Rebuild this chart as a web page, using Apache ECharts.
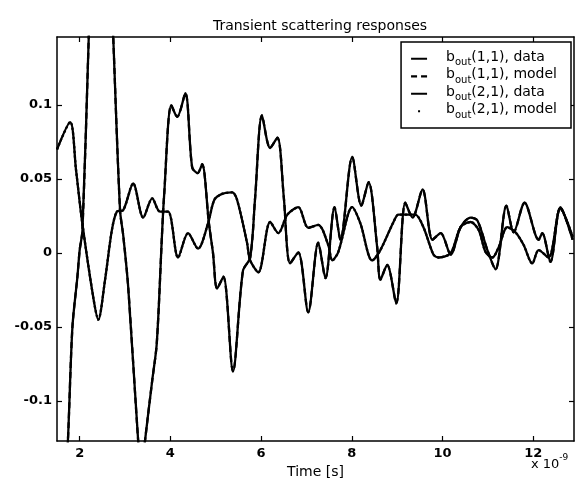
<!DOCTYPE html>
<html>
<head>
<meta charset="utf-8">
<script src="https://cdn.jsdelivr.net/npm/echarts@6/dist/echarts.min.js"></script>
<style>html,body{margin:0;padding:0;background:#fff;}#c{width:576px;height:485px;}</style>
</head>
<body>
<div id="c"></div>
<script>
// ---- data (time in units of 1e-9 s) ----
const title = 'Transient scattering responses';
const xName = 'Time [s]';
const seriesNames = ['b_out(1,1), data', 'b_out(1,1), model', 'b_out(2,1), data', 'b_out(2,1), model'];
const xTicks = [2, 4, 6, 8, 10, 12];
const yTicks = [-0.1, -0.05, 0, 0.05, 0.1];

const t11 = [1.5, 1.62, 1.74, 1.84, 1.95, 2.0, 2.06, 2.2, 2.3, 2.45, 2.6, 2.74, 2.89, 2.96, 3.07, 3.29, 3.36, 3.44, 3.6, 3.7, 3.82, 3.86, 4.02, 4.15, 4.33, 4.48, 4.6, 4.7, 4.85, 4.94, 5.03, 5.17, 5.38, 5.6, 5.76, 5.87, 6.02, 6.2, 6.36, 6.5, 6.64, 6.82, 7.04, 7.26, 7.42, 7.62, 7.75, 8.01, 8.21, 8.37, 8.56, 8.63, 8.78, 8.98, 9.18, 9.34, 9.56, 9.78, 9.96, 10.18, 10.4, 10.62, 10.77, 10.99, 11.17, 11.41, 11.57, 11.81, 12.12, 12.2, 12.38, 12.6, 12.87];
const y11 = [-0.26, -0.19, -0.127, -0.05, -0.016, 0.002, 0.015, 0.146, 0.25, 0.30, 0.26, 0.146, 0.029, 0.012, -0.023, -0.127, -0.15, -0.127, -0.086, -0.061, 0.0155, 0.038, 0.1, 0.092, 0.108, 0.058, 0.054, 0.06, 0.02, 0.0, -0.024, -0.016, -0.08, -0.012, -0.003, 0.038, 0.093, 0.071, 0.078, 0.038, -0.007, 0.0005, -0.04, 0.007, -0.017, 0.031, 0.009, 0.065, 0.032, 0.048, 0.004, -0.018, -0.008, -0.034, 0.034, 0.024, 0.043, 0.009, 0.0135, -0.001, 0.0175, 0.024, 0.022, 0.002, -0.011, 0.032, 0.014, 0.034, 0.009, 0.0135, -0.006, 0.031, 0.009];

const t21 = [1.5, 1.79, 1.92, 2.05, 2.3, 2.41, 2.56, 2.71, 2.82, 2.96, 3.18, 3.4, 3.6, 3.77, 3.95, 4.17, 4.39, 4.61, 4.83, 4.97, 5.14, 5.36, 5.47, 5.69, 5.76, 5.94, 6.2, 6.38, 6.58, 6.82, 7.04, 7.26, 7.48, 7.57, 7.7, 8.01, 8.19, 8.45, 8.63, 8.92, 9.03, 9.23, 9.4, 9.58, 9.8, 9.91, 10.18, 10.4, 10.62, 10.8, 10.95, 11.1, 11.24, 11.43, 11.61, 11.79, 11.98, 12.12, 12.34, 12.6, 12.87];
const y21 = [0.07, 0.0885, 0.056, 0.022, -0.03, -0.045, -0.018, 0.0155, 0.028, 0.029, 0.047, 0.024, 0.037, 0.028, 0.028, -0.003, 0.0135, 0.003, 0.02, 0.036, 0.04, 0.041, 0.036, 0.007, -0.005, -0.013, 0.021, 0.0135, 0.026, 0.031, 0.017, 0.019, 0.0055, -0.005, 0.0005, 0.031, 0.02, -0.005, 0.002, 0.021, 0.026, 0.026, 0.026, 0.0175, -0.001, -0.003, 0.0, 0.0175, 0.021, 0.0155, 0.0007, -0.003, 0.004, 0.0175, 0.014, 0.0054, -0.007, 0.002, -0.003, 0.03, 0.011];

// models coincide with the measured curves in the picture
const t11m = t11, y11m = y11;
const t21m = t21, y21m = y21;

function pairs(t, y) { return t.map((v, i) => [v, y[i]]); }

const FONT = 'DejaVu Sans';
const chart = echarts.init(document.getElementById('c'), null, {renderer: 'canvas'});

const axisLineStyle = {color: '#000', width: 1.5};
const tickStyle = {color: '#000', width: 1.2};

function legendFmt(name) {
  const rest = name.replace('b_out', '');
  return '{g| }{m|b}{s|out}{m|' + rest + '}';
}
const solidIcon = 'path://M0,0 M16,10 M0,4 L16,4 L16,6 L0,6 Z';
const dashIcon = 'path://M0,0 M16,10 M0,4 L6,4 L6,6.2 L0,6.2 Z M10,4 L16,4 L16,6.2 L10,6.2 Z';
const dotIcon = 'path://M0,0 M16,10 M7,4 L9,4 L9,6 L7,6 Z';

const option = {
  animation: false,
  backgroundColor: '#fff',
  title: {
    text: title, left: 315, textAlign: 'center', top: 14,
    textStyle: {fontFamily: FONT, fontSize: 14, fontWeight: 'normal', color: '#000'}
  },
  grid: {left: 57, right: 2, top: 37, bottom: 44},
  legend: {
    orient: 'vertical', right: 5, top: 42, align: 'left',
    backgroundColor: '#fff', borderColor: '#000', borderWidth: 1.5, borderRadius: 0,
    padding: [8, 14, 8, 10], itemGap: 0, itemWidth: 16, itemHeight: 10,
    data: [
      {name: seriesNames[0], icon: solidIcon}, {name: seriesNames[1], icon: dashIcon},
      {name: seriesNames[2], icon: solidIcon}, {name: seriesNames[3], icon: dotIcon}
    ],
    formatter: legendFmt,
    textStyle: {
      fontFamily: FONT, color: '#000',
      rich: {
        g: {width: 14, fontSize: 14, lineHeight: 17.5, fontFamily: FONT},
        m: {fontSize: 14, lineHeight: 14, verticalAlign: 'top', fontFamily: FONT, color: '#000'},
        s: {fontSize: 10, lineHeight: 11, verticalAlign: 'bottom', fontFamily: FONT, color: '#000'}
      }
    }
  },
  xAxis: [
    {
      type: 'value', min: 1.5, max: 12.9, position: 'bottom',
      axisLine: {show: true, onZero: false, lineStyle: axisLineStyle},
      axisTick: {show: true, inside: true, length: 5, customValues: xTicks, lineStyle: tickStyle},
      axisLabel: {customValues: xTicks, color: '#000', fontSize: 13, fontWeight: 'bold', fontFamily: FONT, margin: 6},
      splitLine: {show: false},
      name: xName, nameLocation: 'middle', nameGap: 22,
      nameTextStyle: {fontFamily: FONT, fontSize: 14, color: '#000', verticalAlign: 'top'}
    },
    {
      type: 'value', min: 1.5, max: 12.9, position: 'top',
      axisLine: {show: true, onZero: false, lineStyle: axisLineStyle},
      axisTick: {show: true, inside: true, length: 5, customValues: xTicks, lineStyle: tickStyle},
      axisLabel: {show: false}, splitLine: {show: false}
    }
  ],
  yAxis: [
    {
      type: 'value', min: -0.127, max: 0.146, position: 'left',
      axisLine: {show: true, onZero: false, lineStyle: axisLineStyle},
      axisTick: {show: true, inside: true, length: 5, customValues: yTicks, lineStyle: tickStyle},
      axisLabel: {
        customValues: yTicks, color: '#000', fontSize: 13, fontWeight: 'bold', fontFamily: FONT, margin: 5,
        formatter: v => (Math.abs(v) < 1e-9 ? '0' : String(+v.toFixed(3)))
      },
      splitLine: {show: false}
    },
    {
      type: 'value', min: -0.127, max: 0.146, position: 'right',
      axisLine: {show: true, onZero: false, lineStyle: axisLineStyle},
      axisTick: {show: true, inside: true, length: 5, customValues: yTicks, lineStyle: tickStyle},
      axisLabel: {show: false}, splitLine: {show: false}
    }
  ],
  graphic: [
    {
      type: 'text', left: 531, top: 453,
      style: {
        text: '{a|x 10}{b|-9}',
        rich: {
          a: {fontFamily: FONT, fontSize: 13, fill: '#000', verticalAlign: 'bottom', lineHeight: 18},
          b: {fontFamily: FONT, fontSize: 9, fill: '#000', verticalAlign: 'top', lineHeight: 10}
        }
      }
    }
  ],
  series: [
    {name: seriesNames[0], type: 'line', data: pairs(t11, y11), smooth: 0.3, showSymbol: false, symbol: 'none',
     lineStyle: {color: '#000', width: 2.3}, itemStyle: {color: '#000'}},
    {name: seriesNames[1], type: 'line', data: pairs(t11m, y11m), smooth: 0.3, showSymbol: false, symbol: 'none',
     lineStyle: {color: '#000', width: 2.3, type: [6, 4]}, itemStyle: {color: '#000'}},
    {name: seriesNames[2], type: 'line', data: pairs(t21, y21), smooth: 0.3, showSymbol: false, symbol: 'none',
     lineStyle: {color: '#000', width: 2.3}, itemStyle: {color: '#000'}},
    {name: seriesNames[3], type: 'line', data: pairs(t21m, y21m), smooth: 0.3, showSymbol: false, symbol: 'none',
     lineStyle: {color: '#000', width: 2.3, type: 'dotted'}, itemStyle: {color: '#000'}}
  ]
};
chart.setOption(option);
</script>
</body>
</html>
